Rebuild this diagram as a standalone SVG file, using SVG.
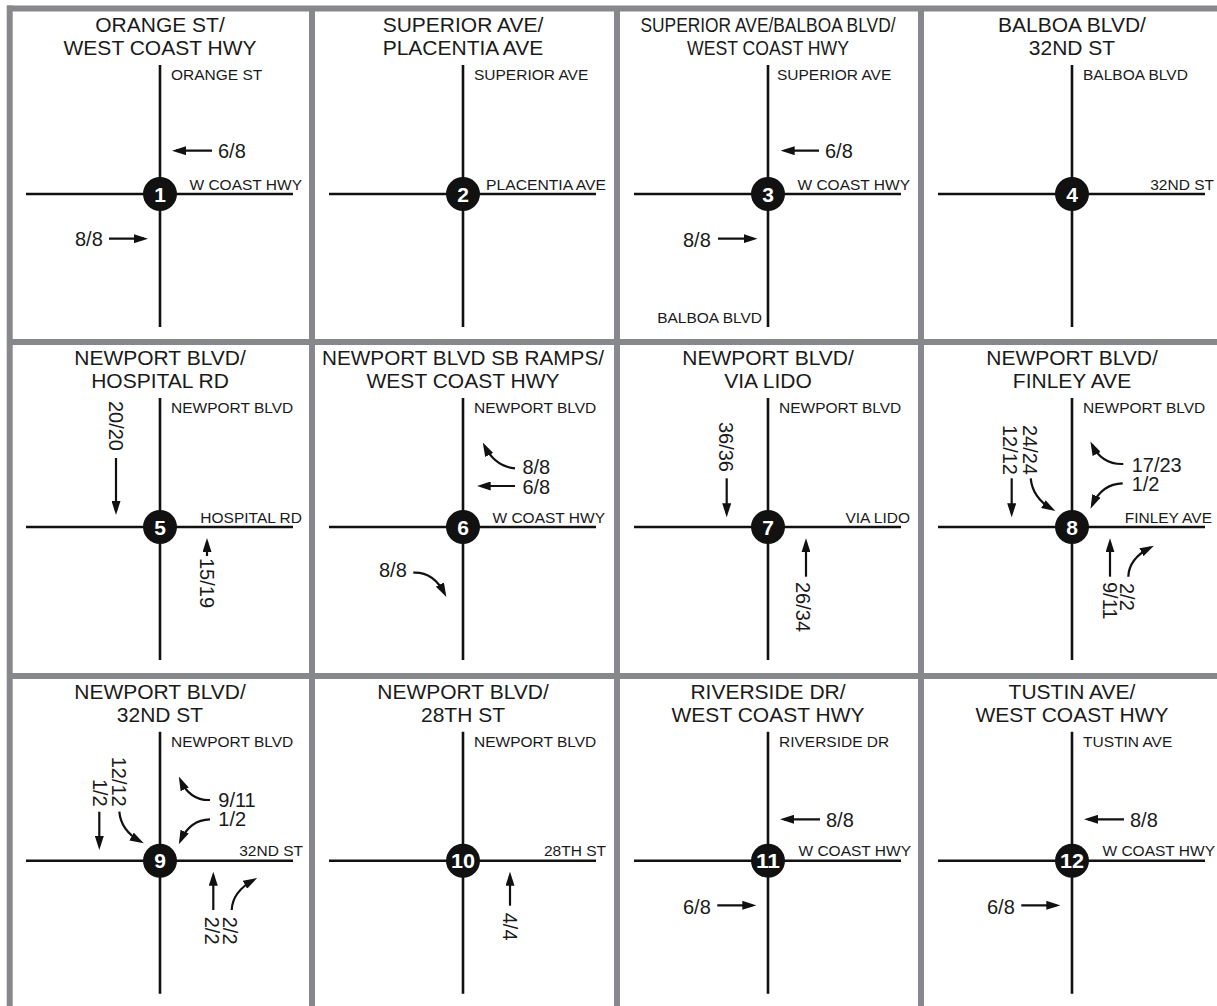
<svg xmlns="http://www.w3.org/2000/svg" width="1217" height="1006" viewBox="0 0 1217 1006">
  <style>
    text { font-family: "Liberation Sans", Arial, sans-serif; fill: #1a1a1a; }
    .grid { stroke: #87888b; stroke-width: 6; fill: none; }
    .road { stroke: #111; stroke-width: 2.6; fill: none; }
    .dot { fill: #111; }
    .num { font-size: 21px; font-weight: bold; fill: #fff; text-anchor: middle; }
    .title { font-size: 21px; text-anchor: middle; }
    .st { font-size: 15.5px; }
    .end { text-anchor: end; }
    .vol { font-size: 20px; }
    .arr { stroke: #111; stroke-width: 2.2; fill: none; marker-end: url(#ah); }
  </style>
  <defs>
    <marker id="ah" markerUnits="userSpaceOnUse" markerWidth="14" markerHeight="9" refX="10" refY="4.5" orient="auto" viewBox="0 0 14 9">
      <path d="M0,0 L14,4.5 L0,9 Z" fill="#111"/>
    </marker>
    <g id="cross">
      <line class="road" x1="0" y1="-129" x2="0" y2="133"/>
      <line class="road" x1="-134" y1="0" x2="133" y2="0"/>
      <circle class="dot" r="17"/>
    </g>
  </defs>
  <rect width="1217" height="1006" fill="#fff"/>

  <!-- panel frame -->
  <g id="frame">
    <line class="grid" x1="7" y1="8.5" x2="1217" y2="8.5"/>
    <line class="grid" x1="9.7" y1="5.5" x2="9.7" y2="1006"/>
    <line class="grid" x1="312" y1="8" x2="312" y2="1006"/>
    <line class="grid" x1="617" y1="8" x2="617" y2="1006"/>
    <line class="grid" x1="921" y1="8" x2="921" y2="1006"/>
    <line class="grid" x1="10" y1="342" x2="1217" y2="342"/>
    <line class="grid" x1="10" y1="676" x2="1217" y2="676"/>
  </g>

  <!-- intersection 1 -->
  <g id="node1" transform="translate(160,194)">
    <text class="title" y="-162">ORANGE ST/</text>
    <text class="title" y="-139">WEST COAST HWY</text>
    <use href="#cross"/>
    <text class="num" y="7.5">1</text>
    <text class="st" x="11" y="-114">ORANGE ST</text>
    <text class="st end" x="142" y="-4.5">W COAST HWY</text>
    <text class="vol" x="58" y="-36">6/8</text>
    <text class="vol" x="-85" y="52">8/8</text>
  </g>

  <!-- intersection 2 -->
  <g id="node2" transform="translate(463,194)">
    <text class="title" y="-162">SUPERIOR AVE/</text>
    <text class="title" y="-139">PLACENTIA AVE</text>
    <use href="#cross"/>
    <text class="num" y="7.5">2</text>
    <text class="st" x="11" y="-114">SUPERIOR AVE</text>
    <text class="st" x="23" y="-4.5" textLength="120" lengthAdjust="spacingAndGlyphs">PLACENTIA AVE</text>
  </g>

  <!-- intersection 3 -->
  <g id="node3" transform="translate(768,194)">
    <text class="title" y="-162" textLength="255" lengthAdjust="spacingAndGlyphs" x="0">SUPERIOR AVE/BALBOA BLVD/</text>
    <text class="title" y="-139" textLength="162" lengthAdjust="spacingAndGlyphs">WEST COAST HWY</text>
    <use href="#cross"/>
    <text class="num" y="7.5">3</text>
    <text class="st" x="9" y="-114">SUPERIOR AVE</text>
    <text class="st end" x="142" y="-4.5">W COAST HWY</text>
    <text class="st end" x="-6" y="128.7">BALBOA BLVD</text>
    <text class="vol" x="57" y="-36">6/8</text>
    <text class="vol" x="-85" y="52.5">8/8</text>
  </g>

  <!-- intersection 4 -->
  <g id="node4" transform="translate(1072,194)">
    <text class="title" y="-162">BALBOA BLVD/</text>
    <text class="title" y="-139">32ND ST</text>
    <use href="#cross"/>
    <text class="num" y="7.5">4</text>
    <text class="st" x="11" y="-114">BALBOA BLVD</text>
    <text class="st end" x="142" y="-4.5">32ND ST</text>
  </g>

  <!-- intersection 5 -->
  <g id="node5" transform="translate(160,527)">
    <text class="title" y="-162">NEWPORT BLVD/</text>
    <text class="title" y="-139">HOSPITAL RD</text>
    <use href="#cross"/>
    <text class="num" y="7.5">5</text>
    <text class="st" x="11" y="-114">NEWPORT BLVD</text>
    <text class="st end" x="142" y="-4.5">HOSPITAL RD</text>
    <text class="vol end" transform="translate(-51.5,-76) rotate(90)">20/20</text>
    <text class="vol" transform="translate(39.5,31) rotate(90)">15/19</text>
  </g>

  <!-- intersection 6 -->
  <g id="node6" transform="translate(463,527)">
    <text class="title" y="-162" textLength="282" lengthAdjust="spacingAndGlyphs">NEWPORT BLVD SB RAMPS/</text>
    <text class="title" y="-139">WEST COAST HWY</text>
    <use href="#cross"/>
    <text class="num" y="7.5">6</text>
    <text class="st" x="11" y="-114">NEWPORT BLVD</text>
    <text class="st end" x="142" y="-4.5">W COAST HWY</text>
    <text class="vol" x="59.4" y="-52.7">8/8</text>
    <text class="vol" x="59.4" y="-33.4">6/8</text>
    <text class="vol" x="-84" y="50">8/8</text>
  </g>

  <!-- intersection 7 -->
  <g id="node7" transform="translate(768,527)">
    <text class="title" y="-162">NEWPORT BLVD/</text>
    <text class="title" y="-139">VIA LIDO</text>
    <use href="#cross"/>
    <text class="num" y="7.5">7</text>
    <text class="st" x="11" y="-114">NEWPORT BLVD</text>
    <text class="st end" x="142" y="-4.5">VIA LIDO</text>
    <text class="vol end" transform="translate(-49.3,-55) rotate(90)">36/36</text>
    <text class="vol" transform="translate(28.4,55) rotate(90)">26/34</text>
  </g>

  <!-- intersection 8 -->
  <g id="node8" transform="translate(1072,527)">
    <text class="title" y="-162">NEWPORT BLVD/</text>
    <text class="title" y="-139">FINLEY AVE</text>
    <use href="#cross"/>
    <text class="num" y="7.5">8</text>
    <text class="st" x="11" y="-114">NEWPORT BLVD</text>
    <text class="st end" x="140" y="-4.5">FINLEY AVE</text>
    <text class="vol end" transform="translate(-68.7,-52) rotate(90)">12/12</text>
    <text class="vol end" transform="translate(-48.7,-52) rotate(90)">24/24</text>
    <text class="vol" x="59.7" y="-55">17/23</text>
    <text class="vol" x="59.7" y="-36">1/2</text>
    <text class="vol" transform="translate(30.7,55) rotate(90)">9/11</text>
    <text class="vol" transform="translate(48,56) rotate(90)">2/2</text>
  </g>

  <!-- intersection 9 -->
  <g id="node9" transform="translate(160,860.7)">
    <text class="title" y="-162">NEWPORT BLVD/</text>
    <text class="title" y="-139">32ND ST</text>
    <use href="#cross"/>
    <text class="num" y="7.5">9</text>
    <text class="st" x="11" y="-114">NEWPORT BLVD</text>
    <text class="st end" x="143" y="-4.5">32ND ST</text>
    <text class="vol end" transform="translate(-67.3,-54) rotate(90)">1/2</text>
    <text class="vol end" transform="translate(-48.3,-54) rotate(90)">12/12</text>
    <text class="vol" x="58.3" y="-53.4">9/11</text>
    <text class="vol" x="58.3" y="-34.7">1/2</text>
    <text class="vol" transform="translate(45,56) rotate(90)">2/2</text>
    <text class="vol" transform="translate(63.3,56) rotate(90)">2/2</text>
  </g>

  <!-- intersection 10 -->
  <g id="node10" transform="translate(463,860.7)">
    <text class="title" y="-162">NEWPORT BLVD/</text>
    <text class="title" y="-139">28TH ST</text>
    <use href="#cross"/>
    <text class="num" y="7.5" textLength="24" lengthAdjust="spacingAndGlyphs" x="0">10</text>
    <text class="st" x="11" y="-114">NEWPORT BLVD</text>
    <text class="st end" x="143" y="-4.5">28TH ST</text>
    <text class="vol" transform="translate(40,52) rotate(90)">4/4</text>
  </g>

  <!-- intersection 11 -->
  <g id="node11" transform="translate(768,860.7)">
    <text class="title" y="-162">RIVERSIDE DR/</text>
    <text class="title" y="-139">WEST COAST HWY</text>
    <use href="#cross"/>
    <text class="num" y="7.5" textLength="24" lengthAdjust="spacingAndGlyphs" x="0">11</text>
    <text class="st" x="11" y="-114">RIVERSIDE DR</text>
    <text class="st end" x="143" y="-4.5">W COAST HWY</text>
    <text class="vol" x="58" y="-33.4">8/8</text>
    <text class="vol" x="-85" y="53.6">6/8</text>
  </g>

  <!-- intersection 12 -->
  <g id="node12" transform="translate(1072,860.7)">
    <text class="title" y="-162">TUSTIN AVE/</text>
    <text class="title" y="-139">WEST COAST HWY</text>
    <use href="#cross"/>
    <text class="num" y="7.5" textLength="24" lengthAdjust="spacingAndGlyphs" x="0">12</text>
    <text class="st" x="11" y="-114">TUSTIN AVE</text>
    <text class="st end" x="143" y="-4.5">W COAST HWY</text>
    <text class="vol" x="58" y="-33.4">8/8</text>
    <text class="vol" x="-85" y="53.6">6/8</text>
  </g>

  <!-- turning-movement arrows -->
  <g id="connectors">
    <g transform="translate(160,194)">
      <path class="arr" d="M52,-43.3 L16,-43.3"/>
      <path class="arr" d="M-51,44.7 L-16,44.7"/>
    </g>
    <g transform="translate(768,194)">
      <path class="arr" d="M51,-43.3 L16.7,-43.3"/>
      <path class="arr" d="M-50,44.7 L-14.5,44.7"/>
    </g>
    <g transform="translate(160,527)">
      <path class="arr" d="M-44,-69 L-44,-16"/>
      <path class="arr" d="M47,29 L47,15"/>
    </g>
    <g transform="translate(463.3,526.7)">
      <path class="arr" d="M51.7,-58.4 Q32,-60 21.3,-80.7"/>
      <path class="arr" d="M51.7,-40.7 L17.4,-40.7"/>
      <path class="arr" d="M-50,46 Q-30,45 -18.8,66.7"/>
    </g>
    <g transform="translate(768.3,526.7)">
      <path class="arr" d="M-41.6,-48.4 L-41.6,-13.4"/>
      <path class="arr" d="M37.7,50 L37.7,15.6"/>
    </g>
    <g transform="translate(1072,526.7)">
      <path class="arr" d="M-60.3,-48.4 L-60.3,-13.4"/>
      <path class="arr" d="M-41.3,-48.4 Q-39.5,-29 -20,-17.6"/>
      <path class="arr" d="M51.3,-62.7 Q30,-62 20.2,-81.7"/>
      <path class="arr" d="M50.7,-43.4 Q30,-43 20.2,-21.7"/>
      <path class="arr" d="M38,50 L38,15.6"/>
      <path class="arr" d="M56.3,50 Q57,32 78.3,20.9"/>
    </g>
    <g transform="translate(160,860.7)">
      <path class="arr" d="M-60.7,-49 L-60.7,-14.7"/>
      <path class="arr" d="M-40.7,-49 Q-39,-30 -19.7,-19.3"/>
      <path class="arr" d="M50,-60.7 Q30,-60 20.5,-80.5"/>
      <path class="arr" d="M50,-41.4 Q30,-41 20.5,-20"/>
      <path class="arr" d="M53.3,49.3 L53.3,15"/>
      <path class="arr" d="M71.7,49.3 Q72.5,31 93.7,19.2"/>
    </g>
    <g transform="translate(463,860.7)">
      <path class="arr" d="M47,45 L47,15"/>
    </g>
    <g transform="translate(768,860.7)">
      <path class="arr" d="M52,-41.4 L16,-41.4"/>
      <path class="arr" d="M-50.7,44.6 L-15.7,44.6"/>
    </g>
    <g transform="translate(1072,860.7)">
      <path class="arr" d="M52,-41.4 L16,-41.4"/>
      <path class="arr" d="M-50.7,44.6 L-15.7,44.6"/>
    </g>
  </g>
</svg>
